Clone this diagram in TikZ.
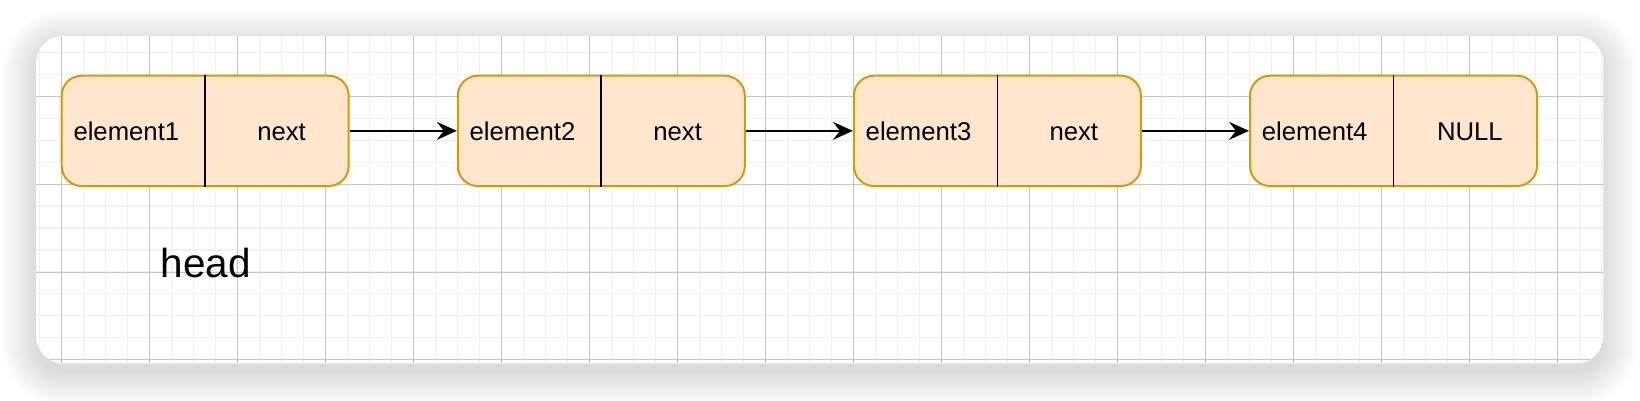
\documentclass[tikz,border=0pt]{standalone}
\usepackage{fontspec}
\setmainfont{Liberation Sans}
\usetikzlibrary{arrows.meta}
\definecolor{elemfill}{HTML}{FFE6CC}
\definecolor{elemdraw}{HTML}{D79B00}
\definecolor{gridminor}{HTML}{F0F0F0}
\definecolor{gridmajor}{HTML}{C4C4C4}
\begin{document}
\begin{tikzpicture}[x=1pt,y=-1pt,
  elem/.style={draw=elemdraw, fill=elemfill, line width=2pt, rounded corners=20pt,
    minimum width=287pt, minimum height=110.3pt, inner sep=0pt},
  lbl/.style={inner sep=0pt, font=\fontsize{25.7}{30}\selectfont},
  headlbl/.style={inner sep=0pt, font=\fontsize{40.5}{46}\selectfont},
  divider/.style={black, line width=1.7pt},
  arr/.style={line width=2pt, -{Stealth[length=20pt,width=18pt,inset=7pt]}},
  gminor/.style={gridminor, line width=1.3pt},
  gmajor/.style={gridmajor, line width=0.9pt}]
\fill[white] (0,0) rectangle (1640,400);
\useasboundingbox (0,0) rectangle (1640,400);
% shadow
\foreach \k in {0,...,35}{
  \pgfmathsetmacro\rr{27+\k}
  \fill[black, opacity=0.0045, rounded corners=\rr pt] (36-\k,44-\k) rectangle (1603.3+\k,371.3+\k);
}
% card
\fill[white, rounded corners=27pt] (36,36) rectangle (1603.3,363.3);
\begin{scope}
  \clip[rounded corners=27pt] (36,36) rectangle (1603.3,363.3);
  \foreach \i in {-1,...,70}{
    \draw[gminor] (61.7+22*\i,30) -- (61.7+22*\i,370);
  }
  \foreach \j in {-3,...,12}{
    \draw[gminor] (30,96.6+21.9*\j) -- (1610,96.6+21.9*\j);
  }
  \foreach \i in {0,...,17}{
    \draw[gmajor] (61.7+88*\i,30) -- (61.7+88*\i,370);
  }
  \foreach \j in {0,...,3}{
    \draw[gmajor] (30,96.6+87.7*\j) -- (1610,96.6+87.7*\j);
  }
\end{scope}
% list elements
\node[elem] (n1) at (205.2,130.85) {};
\node[elem] (n2) at (601.3,130.85) {};
\node[elem] (n3) at (997.4,130.85) {};
\node[elem] (n4) at (1393.5,130.85) {};
\draw[divider] (n1.north) -- (n1.south);
\draw[divider] (n2.north) -- (n2.south);
\draw[divider] (n3.north) -- (n3.south);
\draw[divider] (n4.north) -- (n4.south);
\node[lbl, anchor=base west] (e1) at (73.3,140) {element1};
\node[lbl, anchor=base] (p1) at (281.6,140) {next};
\node[lbl, anchor=base west] (e2) at (469.4,140) {element2};
\node[lbl, anchor=base] (p2) at (677.7,140) {next};
\node[lbl, anchor=base west] (e3) at (865.5,140) {element3};
\node[lbl, anchor=base] (p3) at (1073.8,140) {next};
\node[lbl, anchor=base west] (e4) at (1261.6,140) {element4};
\node[lbl, anchor=base] (p4) at (1469.9,140) {NULL};
\node[headlbl, anchor=base] (head) at (205.7,277.3) {head};
% connectors
\draw[arr] (n1.east) -- (n2.west);
\draw[arr] (n2.east) -- (n3.west);
\draw[arr] (n3.east) -- (n4.west);
\end{tikzpicture}
\end{document}
